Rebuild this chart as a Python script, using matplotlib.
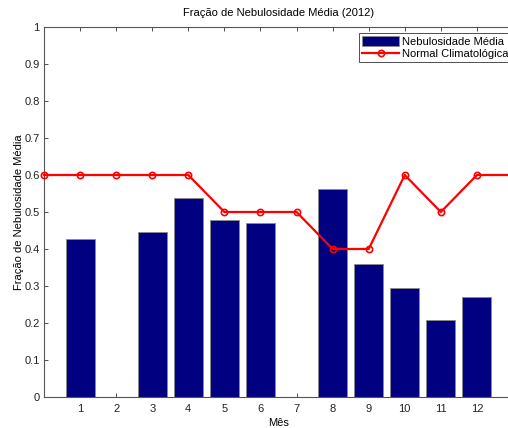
import matplotlib
matplotlib.use("Agg")
import matplotlib.pyplot as plt

plt.rcParams['font.family'] = ['Liberation Sans', 'DejaVu Sans']
plt.rcParams['font.size'] = 8

# dados
meses = [1, 2, 3, 4, 5, 6, 7, 8, 9, 10, 11, 12]
nebulosidade = [0.428, 0, 0.447, 0.537, 0.479, 0.469, 0, 0.562, 0.359, 0.295, 0.208, 0.271]
x_normal = [0, 1, 2, 3, 4, 5, 6, 7, 8, 9, 10, 11, 12, 13]
normal = [0.6, 0.6, 0.6, 0.6, 0.6, 0.5, 0.5, 0.5, 0.4, 0.4, 0.6, 0.5, 0.6, 0.6]
yticks = [0, 0.1, 0.2, 0.3, 0.4, 0.5, 0.6, 0.7, 0.8, 0.9, 1]
ytick_labels = ['0', '0.1', '0.2', '0.3', '0.4', '0.5', '0.6', '0.7', '0.8', '0.9', '1']

fig = plt.figure(figsize=(5.08, 4.28), dpi=100)
# eixo mais largo que a figura (recortado à direita, como no original)
ax = fig.add_axes([44 / 508, 31 / 428, 469 / 508, 370 / 428])

barras = ax.bar(meses, nebulosidade, width=0.8, color='#000080', edgecolor='#8c8c8c',
                linewidth=0.6, label='Nebulosidade Média', zorder=2)
linha, = ax.plot(x_normal, normal, color='#ff0000', linewidth=1.6, marker='o',
                 markersize=4.5, markerfacecolor='none', markeredgecolor='#ff0000',
                 markeredgewidth=1.2, label='Normal Climatológica', zorder=3, clip_on=False)

ax.set_xlim(0, 13)
ax.set_ylim(0, 1)
ax.set_xticks(meses)
ax.set_yticks(yticks)
ax.set_yticklabels(ytick_labels)
ax.tick_params(direction='in', top=True, right=True, length=3, width=0.6,
               colors='#333333', labelcolor='#222222', pad=5)
ax.tick_params(axis='y', pad=3)
for s in ax.spines.values():
    s.set_color('#555555')
    s.set_linewidth(0.8)

ax.set_title('Fração de Nebulosidade Média (2012)', fontsize=8, pad=8)
ax.set_xlabel('Mês', fontsize=8, labelpad=3)
ax.set_ylabel('Fração de Nebulosidade Média', fontsize=8, labelpad=0)

leg = ax.legend([barras, linha], ['Nebulosidade Média', 'Normal Climatológica'],
                loc='upper left', bbox_to_anchor=((359 - 44) / 469, (397 - 33) / 370),
                borderaxespad=0, fancybox=False, framealpha=1, edgecolor='#333333',
                handlelength=3.3, handleheight=0.9, borderpad=0.3, labelspacing=0.15,
                handletextpad=0.3, fontsize=8)
leg.get_frame().set_linewidth(0.6)

fig.savefig('out.png', dpi=100)
